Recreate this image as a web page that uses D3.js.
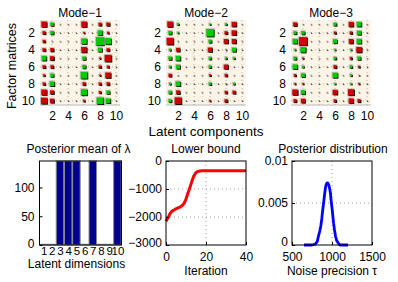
<!DOCTYPE html>
<html><head><meta charset="utf-8">
<script src="https://cdn.jsdelivr.net/npm/d3@7"></script>
<style>
body{margin:0;background:#fff}
text{font-family:"Liberation Sans",Arial,Helvetica,sans-serif;fill:#000}
</style>
</head><body>
<svg id="chart" width="398" height="282"></svg>
<script>
// ---------------- DATA ----------------
const components = [1,2,3,4,5,6,7,8,9,10];
const rows = [1,2,3,4,5,6,7,8,9,10];
const hintonTicks = [2,4,6,8,10];
const modeTitles = ["Mode\u22121","Mode\u22122","Mode\u22123"];

// signed loadings (red < 0, green > 0); columns 3,4,5,7,10 are pruned (~0)
const mode1 = [
  [-0.67, 0.42, 0.05,-0.05, 0.05,-0.67, 0.05,-0.38,-0.42, 0.05],
  [-0.38, 0.42,-0.05, 0.05,-0.05,-0.20, 0.05, 0.58,-0.25,-0.05],
  [-0.33, 0.08, 0.05,-0.05, 0.05, 0.67,-0.05, 1.00, 0.75, 0.05],
  [-0.38,-0.42,-0.05, 0.05,-0.05,-0.67, 0.05, 0.50,-0.38,-0.05],
  [ 0.58,-0.50, 0.05,-0.05, 0.05, 0.42,-0.05,-0.20,-0.83, 0.05],
  [-0.38,-0.38,-0.05, 0.05,-0.05, 0.42, 0.05,-0.33,-0.29,-0.05],
  [-0.25, 0.42, 0.05,-0.05, 0.05, 0.83,-0.05,-0.20,-0.67, 0.05],
  [-0.33, 0.58,-0.05, 0.05,-0.05,-0.38, 0.05,-0.33,-0.38,-0.05],
  [-0.67,-0.46, 0.05,-0.05, 0.05, 0.75,-0.05,-0.29, 0.42, 0.05],
  [-0.75,-0.50,-0.05, 0.05,-0.05,-0.25, 0.05, 0.83, 0.58,-0.05]
];
const mode2 = [
  [-0.67, 0.25, 0.05,-0.05, 0.05, 0.20, 0.05, 0.25,-0.58, 0.05],
  [ 0.42, 0.20,-0.05, 0.05,-0.05, 0.92,-0.05,-0.38,-0.58,-0.05],
  [-0.83, 0.06, 0.05,-0.05, 0.05, 0.38, 0.05,-0.54,-0.54, 0.05],
  [ 0.25,-0.46,-0.05, 0.05,-0.05,-0.54,-0.05, 0.17, 0.50,-0.05],
  [ 0.42, 0.58, 0.05,-0.05, 0.05, 0.33, 0.05, 0.25, 0.25, 0.05],
  [ 0.25, 0.50,-0.05, 0.05,-0.05, 0.33,-0.05,-0.54, 0.06,-0.05],
  [-0.38, 0.06, 0.05,-0.05, 0.05,-0.25, 0.05,-0.33, 0.06, 0.05],
  [ 0.25, 0.58,-0.05, 0.05,-0.05, 0.33,-0.05,-0.17, 0.25,-0.05],
  [ 0.38,-0.46, 0.05,-0.05, 0.05, 0.08, 0.05,-0.33,-0.38, 0.05],
  [ 0.38,-0.83,-0.05, 0.05,-0.05,-0.20,-0.05,-0.38, 0.06,-0.05]
];
const mode3 = [
  [-0.46, 0.06, 0.05,-0.05, 0.05, 0.38, 0.05,-0.58, 0.58, 0.05],
  [ 0.38, 0.42,-0.05, 0.05,-0.05,-0.29,-0.05,-0.33, 0.50,-0.05],
  [ 0.58,-1.00, 0.05,-0.05, 0.05, 0.50, 0.05,-0.54, 0.58, 0.05],
  [ 0.20, 0.67,-0.05, 0.05,-0.05, 0.20,-0.05, 0.20,-0.67,-0.05],
  [ 0.38,-0.20, 0.05,-0.05, 0.05, 0.33, 0.05,-0.29, 0.42, 0.05],
  [ 0.58, 0.25,-0.05, 0.05,-0.05,-0.38,-0.05, 0.33,-0.25,-0.05],
  [-0.29, 0.46, 0.05,-0.05, 0.05, 0.62, 0.05, 0.25, 0.17, 0.05],
  [-0.20,-0.20,-0.05, 0.05,-0.05, 0.20,-0.05, 0.20,-0.20,-0.05],
  [-0.67, 0.50, 0.05,-0.05, 0.05,-0.58, 0.05,-0.75, 0.06, 0.05],
  [-0.38,-0.50,-0.05, 0.05,-0.05,-0.33,-0.05,-0.58,-0.38,-0.05]
];

// posterior mean of lambda per latent dimension
const latentDims = [1,2,3,4,5,6,7,8,9,10];
const lambdaMean = [1.2, 1.2, 146, 146, 146, 1.2, 146, 1.2, 1.2, 146];
const lambdaTicks = [0, 50, 100];

// lower bound per iteration (0..40)
const lowerBound = [
  -2150,-2030,-1880,-1790,-1750,-1710,-1675,-1645,-1600,-1520,
  -1360,-1140, -940, -710, -520, -410, -370, -355, -350, -350,
   -350, -350, -350, -350, -350, -350, -350, -350, -350, -350,
   -350, -350, -350, -350, -350, -350, -350, -350, -350, -350, -350
];
const lbXTicks = [0, 20, 40];
const lbYTicks = [0, -1000, -2000, -3000];

// posterior distribution of noise precision tau
const tauValues = [650,700,750,790,815,832,848,861,872,882,895,907,918,927,938,948,958,969,980,990,1000,1010,1020,1031,1045,1060,1080,1100,1150,1200];
const tauDensity = [0,0,0,0.0001,0.0004,0.0011,0.0017,0.0023,0.0031,0.0040,0.0050,0.0060,0.0068,0.0072,0.0074,0.0074,0.0072,0.0068,0.0062,0.0052,0.0044,0.0035,0.0026,0.0018,0.0010,0.0005,0.0002,0,0,0];
const tauXTicks = [500, 1000, 1500];
const tauYTicks = [0, 0.005, 0.01];

// ---------------- DRAW ----------------
const FONT = '"Liberation Sans",Arial,Helvetica,sans-serif';
const svg = d3.select("#chart");
const fmtMinus = v => (v < 0 ? "\u2212" + Math.abs(v) : String(v));

function styleAxis(g, size){
  g.attr("font-family", FONT).attr("font-size", size);
  g.select(".domain").remove();
  g.selectAll("text").attr("fill", "#000");
  g.selectAll(".tick line").attr("stroke", "#000");
}
// lift the bottom-most y label slightly (as in the reference)
function liftZero(g, val, dy){
  g.selectAll(".tick").filter(d => d === val).select("text").attr("dy", dy || "0.18em");
}

// Hinton panels
const hx = [40, 166, 291], hw = 80, hTop = 20, hBot = 105;
const mats = [mode1, mode2, mode3];
mats.forEach((M, k) => {
  const x = d3.scaleLinear().domain([0.5, 10.5]).range([hx[k], hx[k] + hw]);
  const y = d3.scaleLinear().domain([0.5, 10.5]).range([hTop, hBot]);
  const side = d3.scaleLinear().domain([0, 1]).range([0, 8.2]);
  const g = svg.append("g");
  g.append("rect").attr("x", hx[k]).attr("y", hTop).attr("width", hw).attr("height", hBot - hTop)
    .attr("fill", "#fdf4e8");
  hintonTicks.forEach(t => {
    g.append("line").attr("x1", x(t)).attr("x2", x(t)).attr("y1", hTop).attr("y2", hBot)
      .attr("stroke", "#9a9a9a").attr("stroke-width", 0.7).attr("stroke-dasharray", "1,3");
    g.append("line").attr("x1", hx[k]).attr("x2", hx[k] + hw).attr("y1", y(t)).attr("y2", y(t))
      .attr("stroke", "#9a9a9a").attr("stroke-width", 0.7).attr("stroke-dasharray", "1,3");
  });
  g.append("line").attr("x1", hx[k]).attr("x2", hx[k] + hw).attr("y1", hBot).attr("y2", hBot)
    .attr("stroke", "#b8b8b8").attr("stroke-width", 1);
  const cells = [];
  M.forEach((row, i) => row.forEach((v, j) => cells.push({r: rows[i], c: components[j], v})));
  const cg = g.selectAll("g.cell").data(cells).join("g").attr("class", "cell");
  cg.each(function(d){
    const s = Math.max(1, side(Math.abs(d.v)));
    const cx = x(d.c), cy = y(d.r);
    const sel = d3.select(this);
    if (s > 1.5) {
      sel.append("rect").attr("x", cx - s/2 - 1).attr("y", cy - s/2 - 1).attr("width", s + 2).attr("height", s + 2)
        .attr("fill", "#bdb3ab").attr("opacity", 0.7);
    }
    sel.append("rect").attr("x", cx - s/2 + 0.8).attr("y", cy - s/2 + 0.8).attr("width", s).attr("height", s)
      .attr("fill", "#000");
    sel.append("rect").attr("x", cx - s/2).attr("y", cy - s/2).attr("width", s).attr("height", s)
      .attr("fill", s > 1.5 ? (d.v < 0 ? "#d00000" : "#00cc00") : "#777");
  });
  const ax = g.append("g").attr("transform", `translate(0,${hBot})`)
    .call(d3.axisBottom(x).tickValues(hintonTicks).tickSize(0).tickPadding(6));
  styleAxis(ax, 12);
  const ay = g.append("g").attr("transform", `translate(${hx[k]},0)`)
    .call(d3.axisLeft(y).tickValues(hintonTicks).tickSize(0).tickPadding(5));
  styleAxis(ay, 12);
  g.append("text").attr("x", hx[k] + hw/2).attr("y", 16.5).attr("text-anchor", "middle")
    .attr("font-size", 12).text(modeTitles[k]);
});
svg.append("text").attr("transform", "translate(16,66) rotate(-90)").attr("text-anchor", "middle")
  .attr("font-size", 12.5).text("Factor matrices");
svg.append("text").attr("x", 206).attr("y", 136).attr("text-anchor", "middle")
  .attr("font-size", 13.5).text("Latent components");

// Bottom panels
const bTop = 161, bBot = 245;

// Panel 1: lambda bars
{
  const x0 = 39.5, x1 = 121.5;
  const x = d3.scaleLinear().domain([0.5, 10.5]).range([x0, x1]);
  const y = d3.scaleLinear().domain([0, 146]).range([bBot, bTop]);
  const g = svg.append("g");
  g.selectAll("rect.bar").data(latentDims.map((d, i) => ({d, v: lambdaMean[i]}))).join("rect")
    .attr("class", "bar")
    .attr("x", d => x(d.d - 0.46)).attr("width", d => x(d.d + 0.46) - x(d.d - 0.46))
    .attr("y", d => y(d.v)).attr("height", d => y(0) - y(d.v))
    .attr("fill", "#00008f").attr("stroke", "#8a8a8a").attr("stroke-width", 1);
  const ay = g.append("g").attr("transform", `translate(${x0},0)`)
    .call(d3.axisLeft(y).tickValues(lambdaTicks).tickSize(-3).tickPadding(5));
  styleAxis(ay, 12);
  liftZero(ay, 0);
  const ax = g.append("g").attr("transform", `translate(0,${bBot})`)
    .call(d3.axisBottom(x).tickValues(latentDims).tickSize(0).tickPadding(2));
  styleAxis(ax, 11.5);
  g.append("rect").attr("x", x0).attr("y", bTop).attr("width", x1 - x0).attr("height", bBot - bTop)
    .attr("fill", "none").attr("stroke", "#000").attr("stroke-width", 1);
  g.append("text").attr("x", (x0 + x1)/2 - 2).attr("y", 153).attr("text-anchor", "middle")
    .attr("font-size", 12).text("Posterior mean of \u03bb");
  g.append("text").attr("x", (x0 + x1)/2 - 4).attr("y", 268).attr("text-anchor", "middle")
    .attr("font-size", 12).text("Latent dimensions");
}

// Panel 2: lower bound
{
  const x0 = 166, x1 = 246;
  const x = d3.scaleLinear().domain([0, 40]).range([x0, x1]);
  const y = d3.scaleLinear().domain([-3000, 0]).range([bBot, bTop]);
  const g = svg.append("g");
  [20].forEach(t => g.append("line").attr("x1", x(t)).attr("x2", x(t)).attr("y1", bTop).attr("y2", bBot)
    .attr("stroke", "#8a8a8a").attr("stroke-width", 0.8).attr("stroke-dasharray", "1,3"));
  [-1000, -2000].forEach(t => g.append("line").attr("x1", x0).attr("x2", x1).attr("y1", y(t)).attr("y2", y(t))
    .attr("stroke", "#8a8a8a").attr("stroke-width", 0.8).attr("stroke-dasharray", "1,3"));
  g.append("path").datum(lowerBound)
    .attr("d", d3.line().x((d, i) => x(i)).y(d => y(d)))
    .attr("fill", "none").attr("stroke", "#ff0000").attr("stroke-width", 3).attr("stroke-linejoin", "round");
  const ay = g.append("g").attr("transform", `translate(${x0},0)`)
    .call(d3.axisLeft(y).tickValues(lbYTicks).tickSize(-3).tickPadding(4).tickFormat(fmtMinus));
  styleAxis(ay, 12);
  liftZero(ay, -3000, "0.12em");
  const ax = g.append("g").attr("transform", `translate(0,${bBot})`)
    .call(d3.axisBottom(x).tickValues(lbXTicks).tickSize(-3).tickPadding(7).tickFormat(d => String(d)));
  styleAxis(ax, 12);
  g.append("rect").attr("x", x0).attr("y", bTop).attr("width", x1 - x0).attr("height", bBot - bTop)
    .attr("fill", "none").attr("stroke", "#000").attr("stroke-width", 1);
  g.append("text").attr("x", (x0 + x1)/2).attr("y", 153).attr("text-anchor", "middle")
    .attr("font-size", 12).text("Lower bound");
  g.append("text").attr("x", (x0 + x1)/2).attr("y", 275).attr("text-anchor", "middle")
    .attr("font-size", 12).text("Iteration");
}

// Panel 3: posterior distribution
{
  const x0 = 292, x1 = 372;
  const x = d3.scaleLinear().domain([500, 1500]).range([x0, x1]);
  const y = d3.scaleLinear().domain([0, 0.01]).range([bBot, bTop]);
  const g = svg.append("g");
  [1000].forEach(t => g.append("line").attr("x1", x(t)).attr("x2", x(t)).attr("y1", bTop).attr("y2", bBot)
    .attr("stroke", "#8a8a8a").attr("stroke-width", 0.8).attr("stroke-dasharray", "1,3"));
  [0.005].forEach(t => g.append("line").attr("x1", x0).attr("x2", x1).attr("y1", y(t)).attr("y2", y(t))
    .attr("stroke", "#8a8a8a").attr("stroke-width", 0.8).attr("stroke-dasharray", "1,3"));
  g.append("path").datum(tauValues.map((t, i) => [t, tauDensity[i]]))
    .attr("d", d3.line().x(d => x(d[0])).y(d => y(d[1])))
    .attr("fill", "none").attr("stroke", "#0000ff").attr("stroke-width", 2.8).attr("stroke-linejoin", "round");
  const ay = g.append("g").attr("transform", `translate(${x0},0)`)
    .call(d3.axisLeft(y).tickValues(tauYTicks).tickSize(-3).tickPadding(4).tickFormat(d => String(d)));
  styleAxis(ay, 12);
  liftZero(ay, 0, "0.08em");
  const ax = g.append("g").attr("transform", `translate(0,${bBot})`)
    .call(d3.axisBottom(x).tickValues(tauXTicks).tickSize(-3).tickPadding(7).tickFormat(d => String(d)));
  styleAxis(ax, 12);
  g.append("rect").attr("x", x0).attr("y", bTop).attr("width", x1 - x0).attr("height", bBot - bTop)
    .attr("fill", "none").attr("stroke", "#000").attr("stroke-width", 1);
  g.append("text").attr("x", (x0 + x1)/2 + 1).attr("y", 153).attr("text-anchor", "middle")
    .attr("font-size", 12).text("Posterior distribution");
  g.append("text").attr("x", (x0 + x1)/2).attr("y", 275).attr("text-anchor", "middle")
    .attr("font-size", 12).text("Noise precision \u03c4");
}
</script>
</body></html>
